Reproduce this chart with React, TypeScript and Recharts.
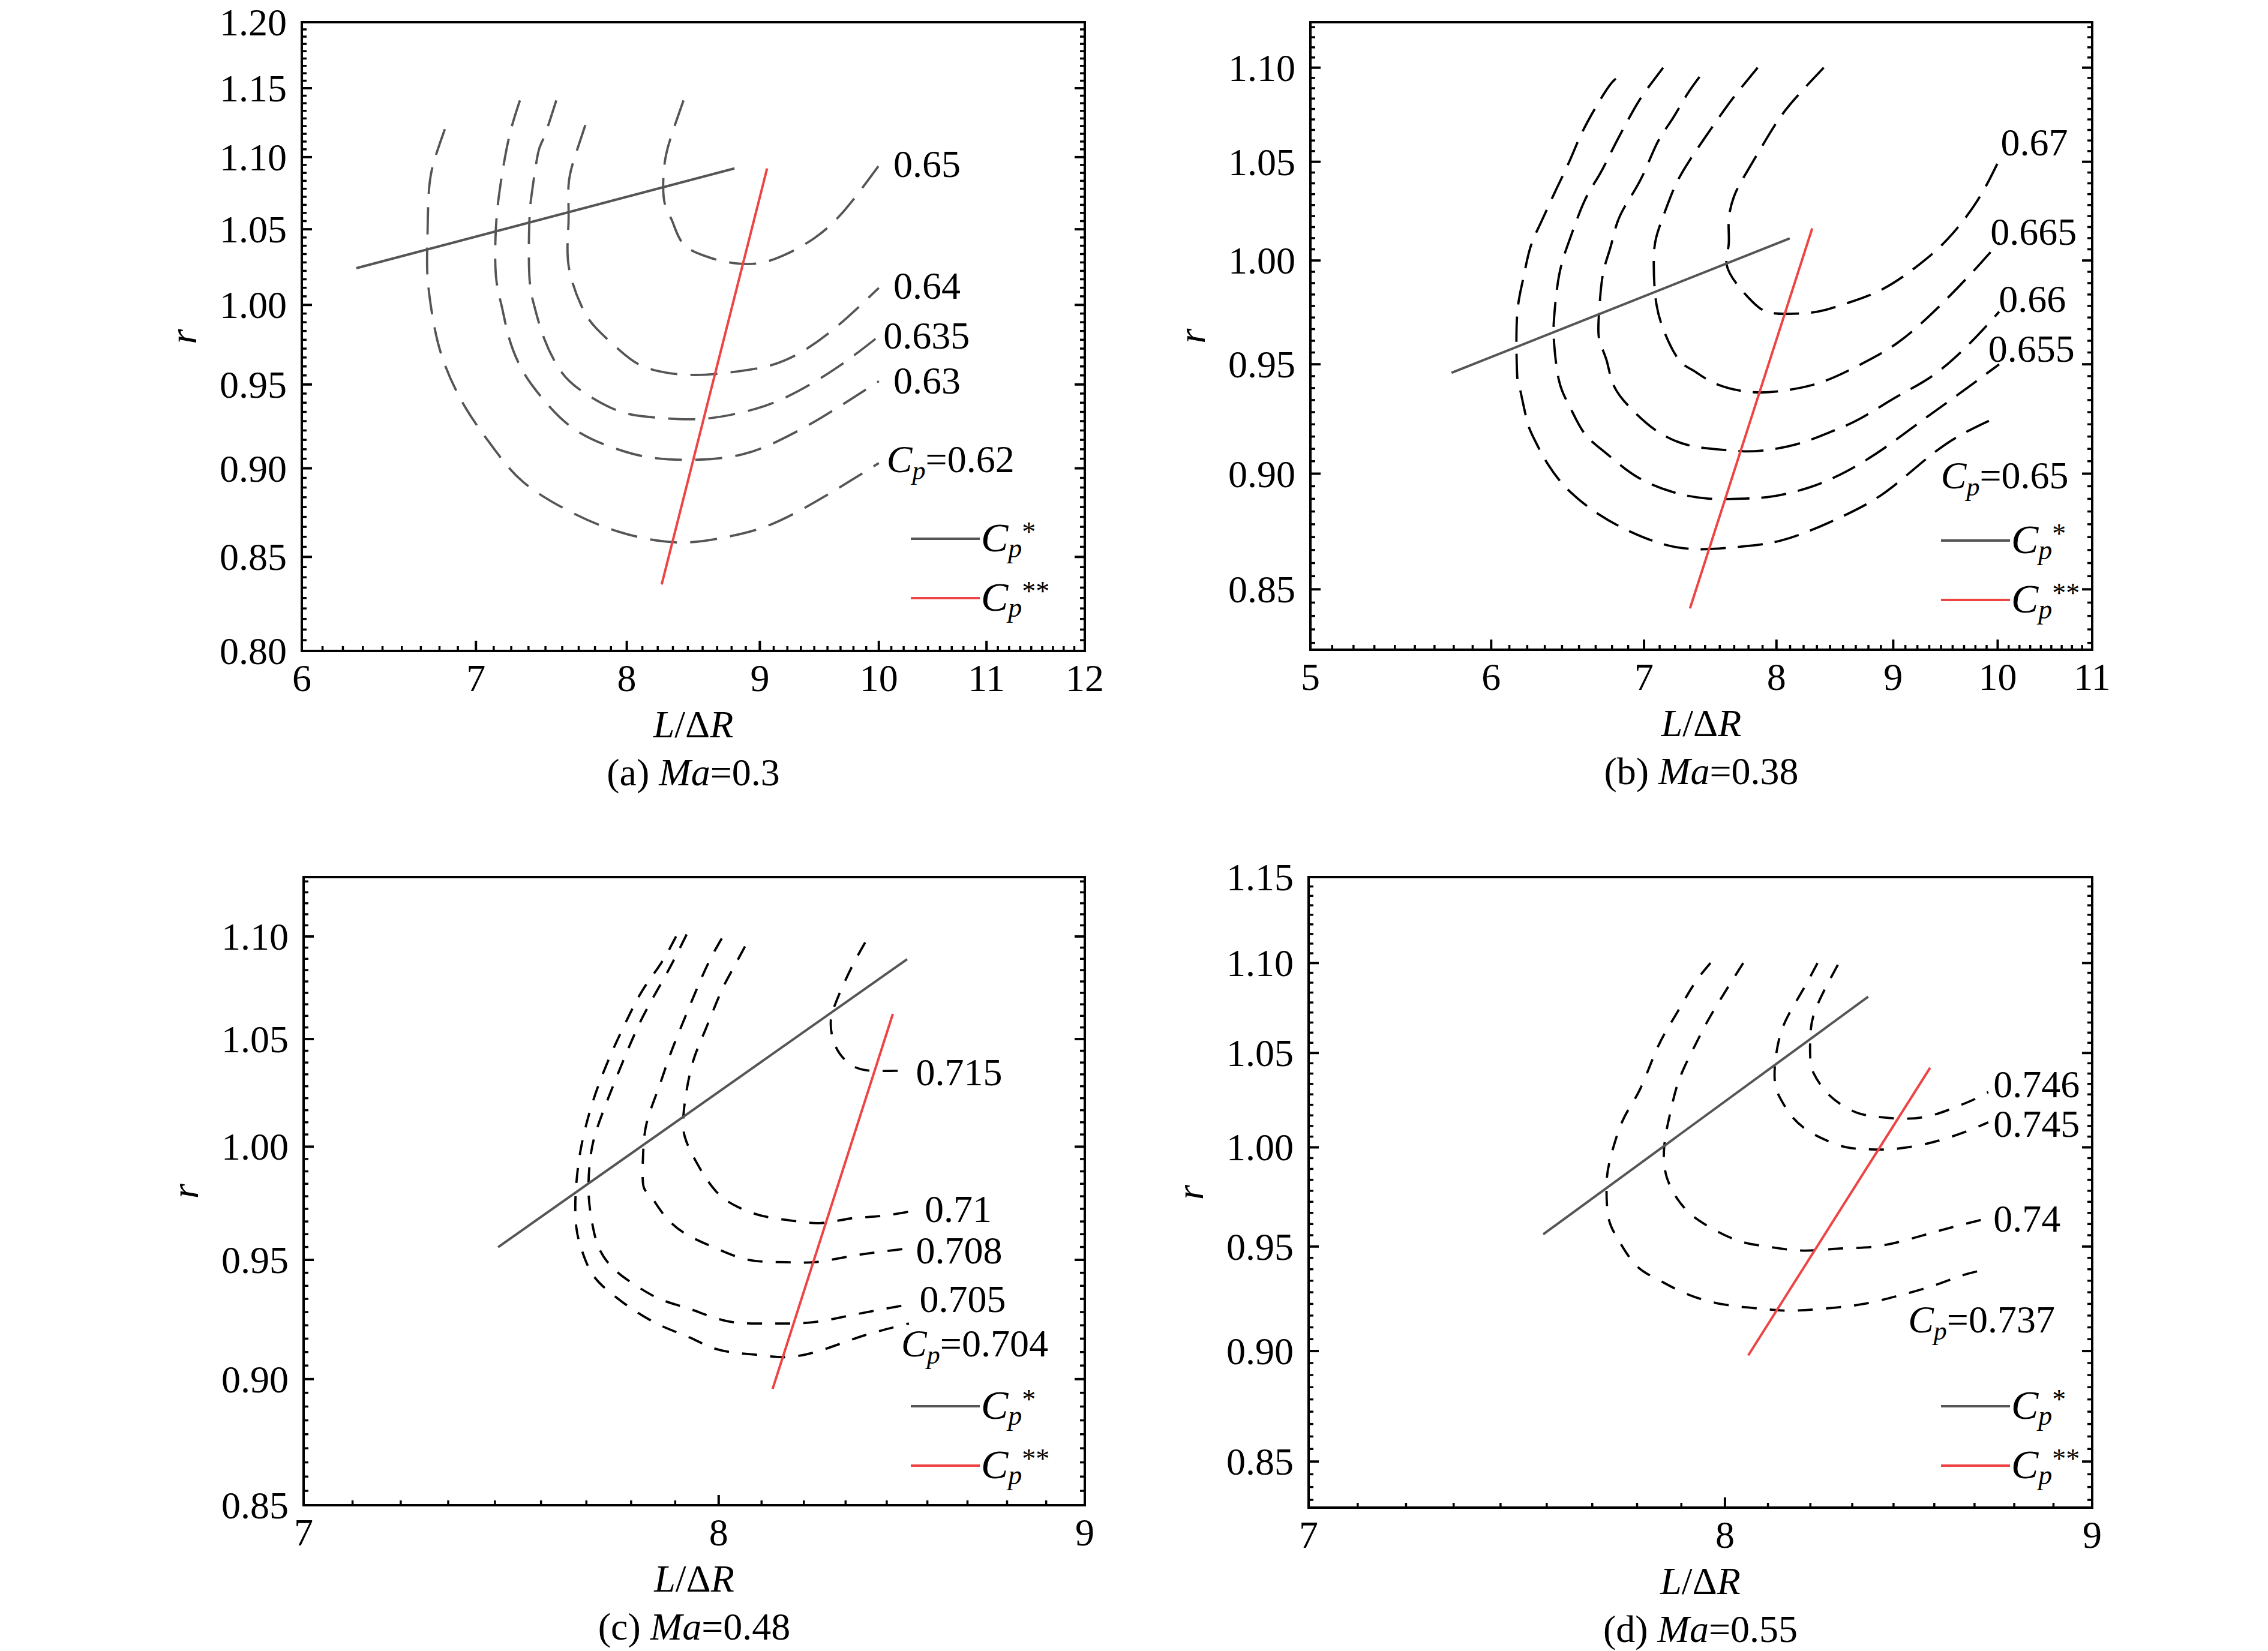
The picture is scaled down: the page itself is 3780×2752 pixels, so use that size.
import React from "react";
import { ComposedChart, Line, Scatter, XAxis, YAxis, Legend } from "recharts";

const FONT = '"Liberation Serif", "Times New Roman", Times, serif';
const GRAY = "#555555";
const RED = "#ee4444";
const FS = 64;

// ---------- (a) Ma = 0.3 ----------
const aXTicks = [6, 7, 8, 9, 10, 11, 12];
const aYTicks = [0.8, 0.85, 0.9, 0.95, 1.0, 1.05, 1.1, 1.15, 1.2];
const a062 = [[6.81, 1.120], [6.75, 1.099], [6.715, 1.077], [6.706, 1.044], [6.706, 1.019], [6.737, 0.992], [6.80, 0.965], [6.935, 0.936], [7.116, 0.911], [7.30, 0.892], [7.59, 0.876], [7.94, 0.864], [8.36, 0.858], [8.74, 0.861], [9.09, 0.868], [9.51, 0.883], [10.0, 0.903]];
const a063 = [[7.278, 1.141], [7.208, 1.114], [7.153, 1.080], [7.125, 1.051], [7.125, 1.019], [7.162, 0.999], [7.208, 0.979], [7.292, 0.959], [7.42, 0.942], [7.637, 0.923], [7.939, 0.911], [8.198, 0.906], [8.521, 0.905], [8.857, 0.908], [9.147, 0.916], [9.506, 0.930], [10.0, 0.952]];
const a0635 = [[7.516, 1.141], [7.434, 1.114], [7.396, 1.103], [7.358, 1.077], [7.339, 1.055], [7.339, 1.019], [7.372, 0.999], [7.434, 0.979], [7.54, 0.959], [7.687, 0.946], [7.939, 0.934], [8.198, 0.930], [8.521, 0.929], [8.857, 0.933], [9.206, 0.942], [9.628, 0.960], [10.0, 0.980]];
const a064 = [[7.712, 1.123], [7.637, 1.099], [7.598, 1.080], [7.598, 1.055], [7.598, 1.026], [7.687, 0.999], [7.787, 0.985], [7.939, 0.972], [8.094, 0.962], [8.304, 0.957], [8.576, 0.956], [8.914, 0.959], [9.206, 0.965], [9.567, 0.982], [10.0, 1.011]];
const a065 = [[8.412, 1.141], [8.331, 1.118], [8.278, 1.099], [8.262, 1.080], [8.278, 1.066], [8.331, 1.055], [8.412, 1.040], [8.576, 1.032], [8.743, 1.028], [8.971, 1.027], [9.206, 1.033], [9.445, 1.044], [9.691, 1.062], [10.0, 1.094]];
const aStar = [[6.297, 1.024], [8.80, 1.092]];
const aStar2 = [[8.251, 0.835], [9.058, 1.092]];
const aTags = [
  { x: 10.13, y: 1.095, t: "0.65" },
  { x: 10.13, y: 1.012, t: "0.64" },
  { x: 10.04, y: 0.980, t: "0.635" },
  { x: 10.13, y: 0.952, t: "0.63" },
  { x: 10.07, y: 0.905, t: "0.62", cp: true },
];

// ---------- (b) Ma = 0.38 ----------
const bXTicks = [5, 6, 7, 8, 9, 10, 11];
const bYTicks = [0.85, 0.9, 0.95, 1.0, 1.05, 1.1];
const b065 = [[6.804, 1.094], [6.740, 1.088], [6.593, 1.068], [6.497, 1.051], [6.402, 1.035], [6.309, 1.019], [6.240, 1.006], [6.194, 0.990], [6.158, 0.972], [6.158, 0.947], [6.172, 0.940], [6.217, 0.925], [6.263, 0.916], [6.355, 0.904], [6.497, 0.892], [6.690, 0.882], [6.890, 0.875], [7.147, 0.869], [7.413, 0.867], [7.692, 0.868], [7.977, 0.870], [8.275, 0.875], [8.584, 0.882], [8.906, 0.891], [9.239, 0.904], [9.583, 0.916], [10.015, 0.926]];
const b0655 = [[7.136, 1.100], [7.017, 1.088], [6.940, 1.079], [6.839, 1.065], [6.765, 1.054], [6.690, 1.043], [6.593, 1.030], [6.497, 1.011], [6.426, 0.993], [6.393, 0.972], [6.393, 0.960], [6.426, 0.942], [6.497, 0.930], [6.593, 0.918], [6.740, 0.909], [6.940, 0.899], [7.199, 0.892], [7.467, 0.889], [7.749, 0.889], [7.977, 0.890], [8.275, 0.894], [8.584, 0.901], [8.906, 0.911], [9.239, 0.923], [9.583, 0.935], [10.015, 0.950]];
const b066 = [[7.403, 1.095], [7.306, 1.085], [7.199, 1.072], [7.095, 1.060], [6.991, 1.043], [6.890, 1.030], [6.814, 1.019], [6.765, 1.006], [6.715, 0.993], [6.690, 0.975], [6.690, 0.962], [6.740, 0.952], [6.790, 0.940], [6.915, 0.929], [7.095, 0.919], [7.306, 0.913], [7.522, 0.911], [7.749, 0.910], [7.977, 0.911], [8.215, 0.914], [8.460, 0.919], [8.711, 0.925], [9.036, 0.935], [9.375, 0.945], [9.725, 0.960], [10.015, 0.975]];
const b0665 = [[7.850, 1.100], [7.719, 1.089], [7.608, 1.079], [7.467, 1.065], [7.332, 1.051], [7.226, 1.038], [7.147, 1.024], [7.085, 1.011], [7.069, 0.998], [7.085, 0.980], [7.147, 0.965], [7.252, 0.952], [7.359, 0.947], [7.522, 0.941], [7.806, 0.937], [8.096, 0.938], [8.391, 0.942], [8.711, 0.950], [9.036, 0.960], [9.375, 0.975], [9.725, 0.993], [10.015, 1.009]];
const b067 = [[8.391, 1.100], [8.096, 1.079], [7.920, 1.062], [7.749, 1.043], [7.664, 1.032], [7.624, 1.020], [7.624, 1.008], [7.608, 0.998], [7.692, 0.988], [7.806, 0.980], [7.920, 0.975], [8.096, 0.974], [8.335, 0.975], [8.584, 0.979], [8.906, 0.986], [9.239, 0.998], [9.514, 1.011], [9.797, 1.030], [10.015, 1.051]];
const bStar = [[5.765, 0.946], [8.108, 1.011]];
const bStar2 = [[7.332, 0.842], [8.294, 1.016]];
const bTags = [
  { x: 10.03, y: 1.060, t: "0.67" },
  { x: 9.926, y: 1.014, t: "0.665" },
  { x: 10.01, y: 0.981, t: "0.66" },
  { x: 9.905, y: 0.957, t: "0.655" },
  { x: 9.443, y: 0.899, t: "0.65", cp: true },
];

// ---------- (c) Ma = 0.48 ----------
const cXTicks = [7, 8, 9];
const cYTicks = [0.85, 0.9, 0.95, 1.0, 1.05, 1.1];
const c0704 = [[7.891, 1.100], [7.854, 1.087], [7.808, 1.074], [7.772, 1.061], [7.735, 1.046], [7.698, 1.029], [7.672, 1.014], [7.651, 0.997], [7.640, 0.978], [7.642, 0.964], [7.654, 0.955], [7.681, 0.944], [7.726, 0.936], [7.781, 0.929], [7.854, 0.922], [7.928, 0.917], [8.002, 0.912], [8.097, 0.910], [8.173, 0.909], [8.250, 0.911], [8.327, 0.915], [8.405, 0.919], [8.505, 0.923]];
const c0705 = [[7.918, 1.101], [7.882, 1.087], [7.845, 1.074], [7.808, 1.061], [7.772, 1.046], [7.735, 1.029], [7.698, 1.011], [7.678, 0.997], [7.672, 0.980], [7.681, 0.966], [7.698, 0.955], [7.735, 0.946], [7.790, 0.939], [7.854, 0.933], [7.928, 0.929], [8.021, 0.924], [8.116, 0.923], [8.192, 0.923], [8.269, 0.924], [8.366, 0.927], [8.505, 0.931]];
const c0708 = [[8.008, 1.099], [7.974, 1.087], [7.937, 1.071], [7.900, 1.054], [7.873, 1.041], [7.845, 1.026], [7.817, 1.011], [7.808, 0.997], [7.808, 0.983], [7.826, 0.978], [7.863, 0.969], [7.918, 0.961], [7.993, 0.955], [8.078, 0.950], [8.173, 0.949], [8.250, 0.949], [8.327, 0.951], [8.405, 0.953], [8.505, 0.955]];
const c071 = [[8.068, 1.095], [8.031, 1.082], [8.002, 1.071], [7.965, 1.054], [7.937, 1.041], [7.918, 1.026], [7.909, 1.011], [7.918, 1.002], [7.946, 0.992], [7.993, 0.980], [8.050, 0.973], [8.116, 0.969], [8.192, 0.967], [8.269, 0.966], [8.347, 0.968], [8.425, 0.969], [8.505, 0.971]];
const c0715 = [[8.386, 1.097], [8.356, 1.087], [8.327, 1.076], [8.304, 1.066], [8.294, 1.059], [8.298, 1.051], [8.318, 1.043], [8.356, 1.037], [8.405, 1.035], [8.465, 1.035], [8.505, 1.035]];
const cStar = [[7.452, 0.9555], [8.50, 1.0887]];
const cStar2 = [[8.140, 0.896], [8.461, 1.062]];
const cTags = [
  { x: 8.524, y: 1.034, t: "0.715" },
  { x: 8.548, y: 0.972, t: "0.71" },
  { x: 8.524, y: 0.954, t: "0.708" },
  { x: 8.534, y: 0.933, t: "0.705" },
  { x: 8.484, y: 0.9145, t: "0.704", cp: true },
];

// ---------- (d) Ma = 0.55 ----------
const dXTicks = [7, 8, 9];
const dYTicks = [0.85, 0.9, 0.95, 1.0, 1.05, 1.1, 1.15];
const d0737 = [[7.963, 1.100], [7.921, 1.088], [7.875, 1.071], [7.829, 1.053], [7.784, 1.030], [7.742, 1.014], [7.711, 0.994], [7.702, 0.981], [7.706, 0.965], [7.729, 0.954], [7.774, 0.941], [7.829, 0.934], [7.902, 0.927], [7.995, 0.922], [8.088, 0.920], [8.165, 0.919], [8.260, 0.920], [8.357, 0.922], [8.455, 0.926], [8.554, 0.931], [8.634, 0.936], [8.705, 0.939]];
const d074 = [[8.047, 1.100], [8.004, 1.085], [7.957, 1.068], [7.921, 1.053], [7.884, 1.036], [7.862, 1.019], [7.847, 1.003], [7.847, 0.989], [7.866, 0.978], [7.902, 0.968], [7.957, 0.960], [8.032, 0.953], [8.108, 0.950], [8.203, 0.948], [8.299, 0.949], [8.396, 0.950], [8.495, 0.954], [8.594, 0.959], [8.705, 0.964]];
const d0745 = [[8.241, 1.100], [8.203, 1.085], [8.165, 1.071], [8.142, 1.059], [8.130, 1.045], [8.130, 1.033], [8.145, 1.025], [8.174, 1.016], [8.213, 1.009], [8.260, 1.004], [8.318, 1.000], [8.376, 0.999], [8.435, 0.999], [8.514, 1.001], [8.594, 1.005], [8.654, 1.009], [8.705, 1.013]];
const d0746 = [[8.295, 1.099], [8.260, 1.085], [8.231, 1.071], [8.222, 1.059], [8.222, 1.047], [8.231, 1.039], [8.260, 1.030], [8.299, 1.023], [8.347, 1.018], [8.396, 1.016], [8.455, 1.015], [8.534, 1.016], [8.614, 1.021], [8.664, 1.025], [8.705, 1.029]];
const dStar = [[7.547, 0.956], [8.376, 1.081]];
const dStar2 = [[8.060, 0.898], [8.544, 1.042]];
const dTags = [
  { x: 8.719, y: 1.033, t: "0.746" },
  { x: 8.719, y: 1.012, t: "0.745" },
  { x: 8.719, y: 0.9635, t: "0.74" },
  { x: 8.484, y: 0.9146, t: "0.737", cp: true },
];

type Pt = { x: number; y: number };
type Tag = { x: number; y: number; t: string; cp?: boolean };
type Side = "bottom" | "top" | "left" | "right";

const pts = (a: number[][]): Pt[] => a.map(([x, y]) => ({ x, y }));

// major ticks plus 8 minor ticks in each interval
function withMinor(majors: number[], dom: [number, number]) {
  const step = (majors[1] - majors[0]) / 9;
  const base = majors[0];
  const lo = Math.ceil((dom[0] - base) / step - 1e-6);
  const hi = Math.floor((dom[1] - base) / step + 1e-6);
  const out: number[] = [];
  for (let i = lo; i <= hi; i++) out.push(Number((base + i * step).toFixed(6)));
  return out;
}

function tickFor(side: Side, majors: number[], fmt: ((v: number) => string) | null) {
  return (p: any) => {
    const x = Number(p.x);
    const y = Number(p.y);
    const v = p.payload?.value as number;
    const major = majors.some((m) => Math.abs(m - v) < 1e-6);
    const len = major ? 17 : 8;
    let x2 = x;
    let y2 = y;
    if (side === "bottom") y2 = y - len;
    if (side === "top") y2 = y + len;
    if (side === "left") x2 = x + len;
    if (side === "right") x2 = x - len;
    let label = null;
    if (major && fmt) {
      label =
        side === "bottom" ? (
          <text x={x} y={y + 67} textAnchor="middle" fontFamily={FONT} fontSize={FS} fill="#000">
            {fmt(v)}
          </text>
        ) : (
          <text x={x - 25} y={y + 22} textAnchor="end" fontFamily={FONT} fontSize={FS} fill="#000">
            {fmt(v)}
          </text>
        );
    }
    return (
      <g>
        <line x1={x} y1={y} x2={x2} y2={y2} stroke="#000" strokeWidth={major ? 4 : 3.5} />
        {label}
      </g>
    );
  };
}

const TagShape = (p: any) => {
  const t = p.payload as Tag | undefined;
  if (!t) return null;
  return (
    <text x={p.cx} y={p.cy + 21} fontFamily={FONT} fontSize={FS} fill="#000">
      {t.cp ? (
        <>
          <tspan fontStyle="italic">C</tspan>
          <tspan fontStyle="italic" fontSize={44} dy={12}>p</tspan>
          <tspan dy={-12}>={t.t}</tspan>
        </>
      ) : (
        t.t
      )}
    </text>
  );
};

const legendRows = [
  { color: GRAY, sup: "*" },
  { color: RED, sup: "**" },
];

const LegendBox = () => (
  <svg width={260} height={200} style={{ overflow: "visible", display: "block" }}>
    {legendRows.map((r, i) => {
      const y = 40 + i * 99;
      return (
        <g key={i}>
          <line x1={0} x2={115} y1={y} y2={y} stroke={r.color} strokeWidth={4} />
          <text x={117} y={y + 21} fontFamily={FONT} fontSize={68} fill="#000">
            <tspan fontStyle="italic">C</tspan>
            <tspan fontStyle="italic" fontSize={46} dy={10}>p</tspan>
            <tspan fontSize={46} dy={-27}>{r.sup}</tspan>
          </text>
        </g>
      );
    })}
  </svg>
);

type PanelCfg = {
  pos: [number, number];
  plot: { l: number; t: number; w: number; h: number };
  xDomain: [number, number];
  yDomain: [number, number];
  xMajor: number[];
  yMajor: number[];
  contours: number[][][];
  star: number[][];
  star2: number[][];
  tags: Tag[];
  color: string;
  dash: string;
  legend: [number, number];
  caption: [string, string];
};

const W = 1890;
const H = 1376;
const AX = 10;
const axisLine = { stroke: "#000", strokeWidth: 4, strokeLinecap: "square" as const };

function Panel({ pos, plot, xDomain, yDomain, xMajor, yMajor, contours, star, star2, tags, color, dash, legend, caption }: PanelCfg) {
  const margin = {
    left: plot.l - AX,
    top: plot.t - AX,
    right: W - plot.l - plot.w - AX,
    bottom: H - plot.t - plot.h - AX,
  };
  const xt = withMinor(xMajor, xDomain);
  const yt = withMinor(yMajor, yDomain);
  const common = { tickSize: 0, tickMargin: 0, tickLine: false, interval: 0 as const, axisLine, allowDataOverflow: true };

  const xTitle = (lp: any) => {
    const vb = lp.viewBox;
    const cx = vb.x + vb.width / 2;
    return (
      <g fontFamily={FONT} fontSize={FS} fill="#000">
        <text x={cx} y={vb.y + 144} textAnchor="middle">
          <tspan fontStyle="italic">L</tspan>/Δ<tspan fontStyle="italic">R</tspan>
        </text>
        <text x={cx} y={vb.y + 224} textAnchor="middle">
          {caption[0]}
          <tspan fontStyle="italic">Ma</tspan>
          {caption[1]}
        </text>
      </g>
    );
  };
  const yTitle = (lp: any) => {
    const vb = lp.viewBox;
    const cx = vb.x + vb.width - 190;
    const cy = vb.y + vb.height / 2;
    return (
      <text x={cx} y={cy} dy={14} textAnchor="middle" transform={`rotate(-90, ${cx}, ${cy})`} fontFamily={FONT} fontSize={FS} fontStyle="italic" fill="#000">
        r
      </text>
    );
  };

  return (
    <div style={{ position: "absolute", left: pos[0], top: pos[1], width: W, height: H }}>
      <ComposedChart width={W} height={H} margin={margin}>
        <XAxis xAxisId="b" dataKey="x" type="number" scale="log" domain={xDomain} ticks={xt} height={AX} {...common} tick={tickFor("bottom", xMajor, (v) => String(v))} label={{ content: xTitle }} />
        <XAxis xAxisId="t" orientation="top" type="number" scale="log" domain={xDomain} ticks={xt} height={AX} {...common} tick={tickFor("top", xMajor, null)} />
        <YAxis yAxisId="l" type="number" scale="log" domain={yDomain} ticks={yt} width={AX} {...common} tick={tickFor("left", yMajor, (v) => v.toFixed(2))} label={{ content: yTitle }} />
        <YAxis yAxisId="r" orientation="right" type="number" scale="log" domain={yDomain} ticks={yt} width={AX} {...common} tick={tickFor("right", yMajor, null)} />
        {contours.map((c, i) => (
          <Line key={i} xAxisId="b" yAxisId="l" data={pts(c)} dataKey="y" type="natural" stroke={color} strokeWidth={3.8} strokeDasharray={dash} dot={false} activeDot={false} isAnimationActive={false} legendType="none" />
        ))}
        <Line xAxisId="b" yAxisId="l" data={pts(star)} dataKey="y" name="Cp*" type="linear" stroke={GRAY} strokeWidth={4} dot={false} activeDot={false} isAnimationActive={false} />
        <Line xAxisId="b" yAxisId="l" data={pts(star2)} dataKey="y" name="Cp**" type="linear" stroke={RED} strokeWidth={4} dot={false} activeDot={false} isAnimationActive={false} />
        <Scatter xAxisId="b" yAxisId="l" data={tags} dataKey="y" shape={TagShape} isAnimationActive={false} legendType="none" />
        <Legend layout="vertical" align="center" verticalAlign="middle" content={() => <LegendBox />} wrapperStyle={{ left: legend[0], top: legend[1] - 40, width: 260, height: 200 }} />
      </ComposedChart>
    </div>
  );
}

const panels: PanelCfg[] = [
  {
    pos: [0, 0], plot: { l: 503, t: 37, w: 1305, h: 1048 }, xDomain: [6, 12], yDomain: [0.8, 1.2],
    xMajor: aXTicks, yMajor: aYTicks, contours: [a062, a063, a0635, a064, a065], star: aStar, star2: aStar2, tags: aTags,
    color: GRAY, dash: "45 22", legend: [1518, 898], caption: ["(a) ", "=0.3"],
  },
  {
    pos: [1890, 0], plot: { l: 294, t: 37, w: 1303, h: 1046 }, xDomain: [5, 11], yDomain: [0.825, 1.125],
    xMajor: bXTicks, yMajor: bYTicks, contours: [b065, b0655, b066, b0665, b067], star: bStar, star2: bStar2, tags: bTags,
    color: "#000", dash: "42 20", legend: [1345, 901], caption: ["(b) ", "=0.38"],
  },
  {
    pos: [0, 1376], plot: { l: 506, t: 86, w: 1302, h: 1047 }, xDomain: [7, 9], yDomain: [0.85, 1.13],
    xMajor: cXTicks, yMajor: cYTicks, contours: [c0704, c0705, c0708, c071, c0715], star: cStar, star2: cStar2, tags: cTags,
    color: "#000", dash: "25 22", legend: [1518, 968], caption: ["(c) ", "=0.48"],
  },
  {
    pos: [1890, 1376], plot: { l: 291, t: 86, w: 1306, h: 1051 }, xDomain: [7, 9], yDomain: [0.83, 1.15],
    xMajor: dXTicks, yMajor: dYTicks, contours: [d0737, d074, d0745, d0746], star: dStar, star2: dStar2, tags: dTags,
    color: "#000", dash: "25 22", legend: [1345, 968], caption: ["(d) ", "=0.55"],
  },
];

export default function App() {
  return (
    <div style={{ position: "absolute", left: 0, top: 0, width: 3780, height: 2752, background: "#fff", fontFamily: FONT }}>
      {panels.map((p, i) => (
        <Panel key={i} {...p} />
      ))}
    </div>
  );
}
